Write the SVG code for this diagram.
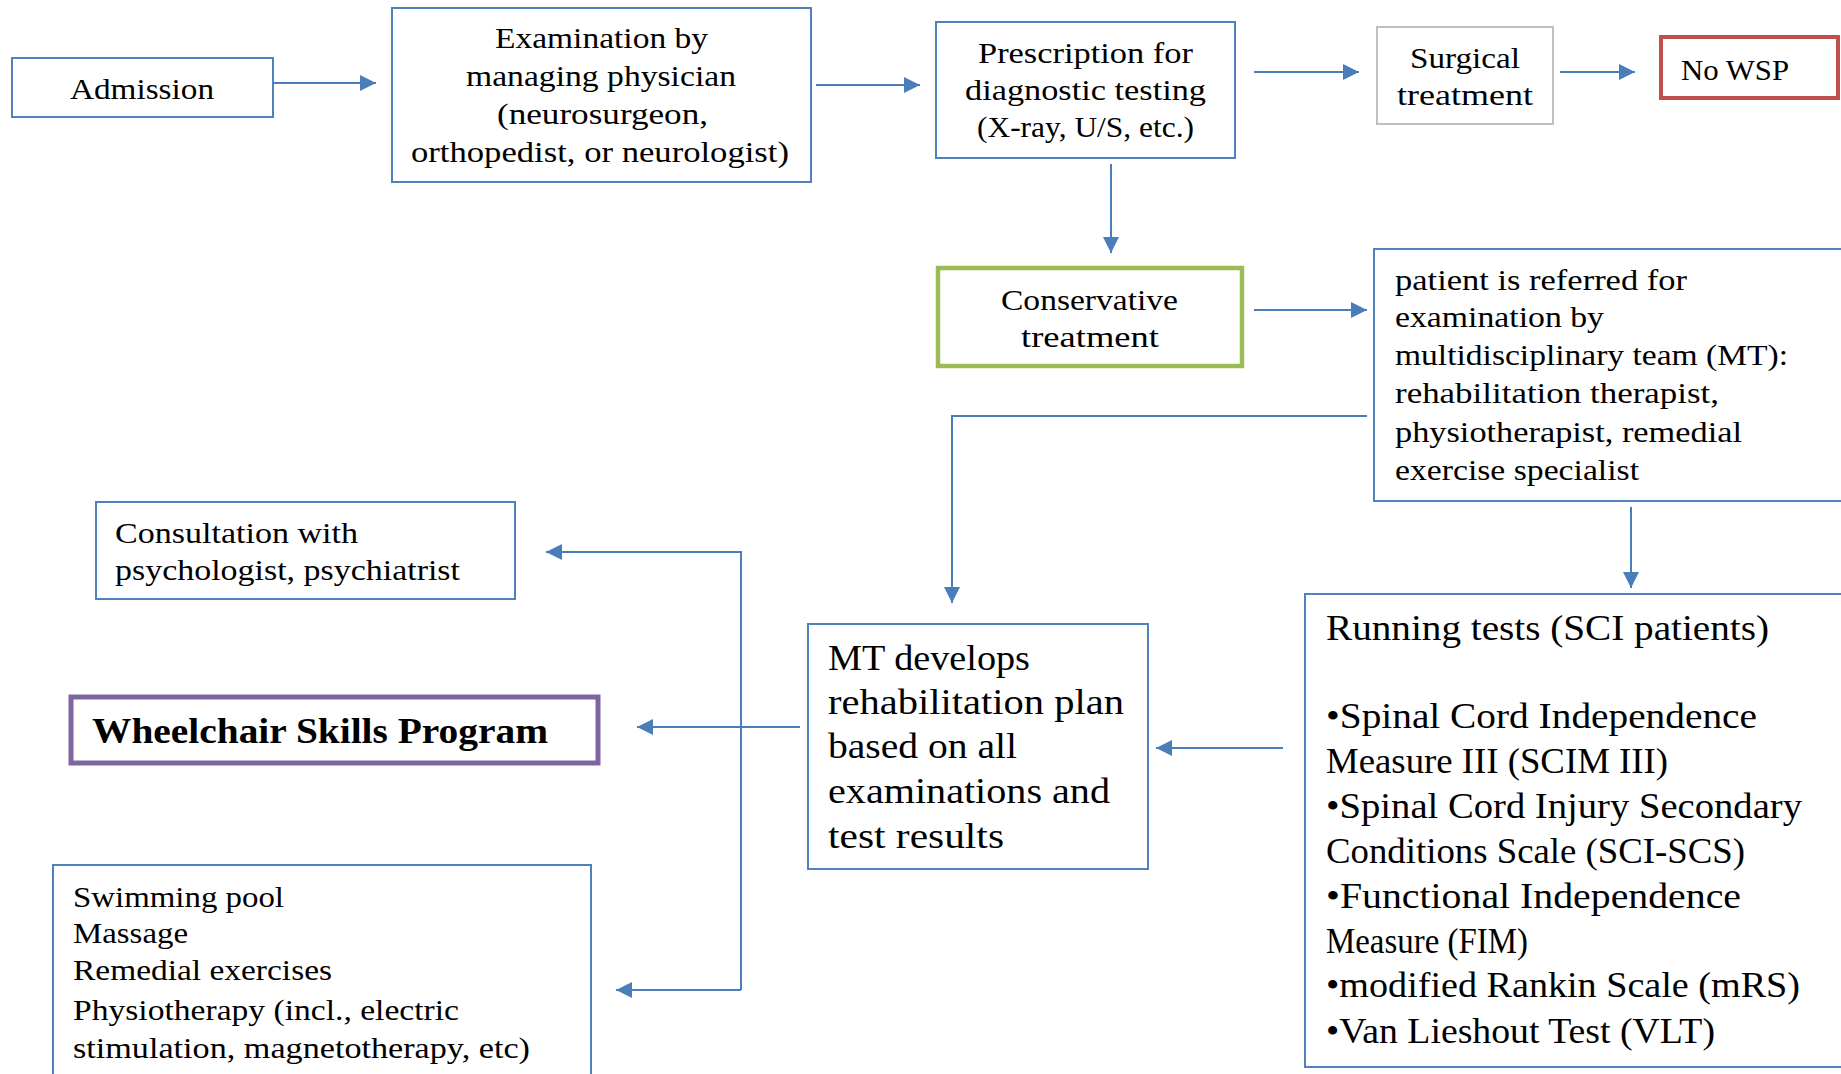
<svg xmlns="http://www.w3.org/2000/svg" width="1841" height="1074" viewBox="0 0 1841 1074">
<style>
text{font-family:"Liberation Serif","Times New Roman",serif;fill:#000}
.s{font-size:30px}
.m{font-size:36px}
.c{text-anchor:middle}
.box{fill:#fff;stroke:#4f81bd;stroke-width:2}
.ln{fill:none;stroke:#4a7ebb;stroke-width:2}
</style>
<defs>
<marker id="ah" viewBox="0 0 10 10" refX="10" refY="5" markerWidth="16" markerHeight="16" markerUnits="userSpaceOnUse" orient="auto">
<path d="M0,0 L10,5 L0,10 z" fill="#4a7ebb"/>
</marker>
</defs>
<g id="connectors">
<line class="ln" x1="273" y1="83" x2="376" y2="83" marker-end="url(#ah)"/>
<line class="ln" x1="816" y1="85" x2="920" y2="85" marker-end="url(#ah)"/>
<line class="ln" x1="1254" y1="72" x2="1359" y2="72" marker-end="url(#ah)"/>
<line class="ln" x1="1560" y1="72" x2="1635" y2="72" marker-end="url(#ah)"/>
<line class="ln" x1="1111" y1="164" x2="1111" y2="253" marker-end="url(#ah)"/>
<line class="ln" x1="1254" y1="310" x2="1367" y2="310" marker-end="url(#ah)"/>
<polyline class="ln" points="1367,416 952,416 952,603" marker-end="url(#ah)"/>
<line class="ln" x1="1631" y1="507" x2="1631" y2="588" marker-end="url(#ah)"/>
<line class="ln" x1="1283" y1="748" x2="1156" y2="748" marker-end="url(#ah)"/>
<line class="ln" x1="800" y1="727" x2="637" y2="727" marker-end="url(#ah)"/>
<polyline class="ln" points="741,990 741,552 546,552" marker-end="url(#ah)"/>
<line class="ln" x1="741" y1="990" x2="616" y2="990" marker-end="url(#ah)"/>
</g>
<g id="admission">
<rect class="box" x="12" y="58" width="261" height="59"/>
<text class="s" x="70" y="99" textLength="144" lengthAdjust="spacingAndGlyphs">Admission</text>
</g>
<g id="examination">
<rect class="box" x="392" y="8" width="419" height="174"/>
<text class="s" x="495" y="48" textLength="213" lengthAdjust="spacingAndGlyphs">Examination by</text>
<text class="s" x="466" y="86" textLength="270" lengthAdjust="spacingAndGlyphs">managing physician</text>
<text class="s" x="497" y="124" textLength="211" lengthAdjust="spacingAndGlyphs">(neurosurgeon,</text>
<text class="s" x="411" y="162" textLength="378" lengthAdjust="spacingAndGlyphs">orthopedist, or neurologist)</text>
</g>
<g id="prescription">
<rect class="box" x="936" y="22" width="299" height="136"/>
<text class="s" x="978" y="63" textLength="215" lengthAdjust="spacingAndGlyphs">Prescription for</text>
<text class="s" x="965" y="100" textLength="241" lengthAdjust="spacingAndGlyphs">diagnostic testing</text>
<text class="s" x="977" y="137" textLength="217" lengthAdjust="spacingAndGlyphs">(X-ray, U/S, etc.)</text>
</g>
<g id="surgical">
<rect x="1377" y="27" width="176" height="97" fill="#fff" stroke="#bfbfbf" stroke-width="2"/>
<text class="s" x="1410" y="68" textLength="110" lengthAdjust="spacingAndGlyphs">Surgical</text>
<text class="s" x="1397" y="105" textLength="136" lengthAdjust="spacingAndGlyphs">treatment</text>
</g>
<g id="nowsp">
<rect x="1661" y="37" width="177" height="61" fill="#fff" stroke="#c0504d" stroke-width="4"/>
<text class="s" x="1681" y="80" textLength="108" lengthAdjust="spacingAndGlyphs">No WSP</text>
</g>
<g id="conservative">
<rect x="938" y="268" width="304" height="98" fill="#fff" stroke="#9bbb59" stroke-width="4.5"/>
<text class="s" x="1001" y="310" textLength="177" lengthAdjust="spacingAndGlyphs">Conservative</text>
<text class="s" x="1021" y="347" textLength="138" lengthAdjust="spacingAndGlyphs">treatment</text>
</g>
<g id="referral">
<rect class="box" x="1374" y="249" width="480" height="252"/>
<text class="s" x="1395" y="290" textLength="292" lengthAdjust="spacingAndGlyphs">patient is referred for</text>
<text class="s" x="1395" y="327" textLength="209" lengthAdjust="spacingAndGlyphs">examination by</text>
<text class="s" x="1395" y="365" textLength="393" lengthAdjust="spacingAndGlyphs">multidisciplinary team (MT):</text>
<text class="s" x="1395" y="403" textLength="324" lengthAdjust="spacingAndGlyphs">rehabilitation therapist,</text>
<text class="s" x="1395" y="442" textLength="347" lengthAdjust="spacingAndGlyphs">physiotherapist, remedial</text>
<text class="s" x="1395" y="480" textLength="244" lengthAdjust="spacingAndGlyphs">exercise specialist</text>
</g>
<g id="consultation">
<rect class="box" x="96" y="502" width="419" height="97"/>
<text class="s" x="115" y="543" textLength="243" lengthAdjust="spacingAndGlyphs">Consultation with</text>
<text class="s" x="115" y="580" textLength="345" lengthAdjust="spacingAndGlyphs">psychologist, psychiatrist</text>
</g>
<g id="wsp">
<rect x="71" y="697" width="527" height="66" fill="#fff" stroke="#8064a2" stroke-width="5"/>
<text class="m" x="92" y="743" font-weight="bold" textLength="456" lengthAdjust="spacingAndGlyphs">Wheelchair Skills Program</text>
</g>
<g id="mtplan">
<rect class="box" x="808" y="624" width="340" height="245"/>
<text class="m" x="828" y="670" textLength="202" lengthAdjust="spacingAndGlyphs">MT develops</text>
<text class="m" x="828" y="714" textLength="296" lengthAdjust="spacingAndGlyphs">rehabilitation plan</text>
<text class="m" x="828" y="758" textLength="189" lengthAdjust="spacingAndGlyphs">based on all</text>
<text class="m" x="828" y="803" textLength="282" lengthAdjust="spacingAndGlyphs">examinations and</text>
<text class="m" x="828" y="848" textLength="176" lengthAdjust="spacingAndGlyphs">test results</text>
</g>
<g id="tests">
<rect class="box" x="1305" y="594" width="550" height="473"/>
<text class="m" x="1326" y="640" textLength="443" lengthAdjust="spacingAndGlyphs">Running tests (SCI patients)</text>
<text class="m" x="1326" y="728" textLength="431" lengthAdjust="spacingAndGlyphs">•Spinal Cord Independence</text>
<text class="m" x="1326" y="773" textLength="342" lengthAdjust="spacingAndGlyphs">Measure III (SCIM III)</text>
<text class="m" x="1326" y="818" textLength="476" lengthAdjust="spacingAndGlyphs">•Spinal Cord Injury Secondary</text>
<text class="m" x="1326" y="863" textLength="419" lengthAdjust="spacingAndGlyphs">Conditions Scale (SCI-SCS)</text>
<text class="m" x="1326" y="908" textLength="415" lengthAdjust="spacingAndGlyphs">•Functional Independence</text>
<text class="m" x="1326" y="953" textLength="202" lengthAdjust="spacingAndGlyphs">Measure (FIM)</text>
<text class="m" x="1326" y="997" textLength="474" lengthAdjust="spacingAndGlyphs">•modified Rankin Scale (mRS)</text>
<text class="m" x="1326" y="1043" textLength="389" lengthAdjust="spacingAndGlyphs">•Van Lieshout Test (VLT)</text>
</g>
<g id="therapies">
<rect class="box" x="53" y="865" width="538" height="220"/>
<text class="s" x="73" y="907" textLength="211" lengthAdjust="spacingAndGlyphs">Swimming pool</text>
<text class="s" x="73" y="943" textLength="115" lengthAdjust="spacingAndGlyphs">Massage</text>
<text class="s" x="73" y="980" textLength="259" lengthAdjust="spacingAndGlyphs">Remedial exercises</text>
<text class="s" x="73" y="1020" textLength="386" lengthAdjust="spacingAndGlyphs">Physiotherapy (incl., electric</text>
<text class="s" x="73" y="1058" textLength="457" lengthAdjust="spacingAndGlyphs">stimulation, magnetotherapy, etc)</text>
</g>
</svg>
